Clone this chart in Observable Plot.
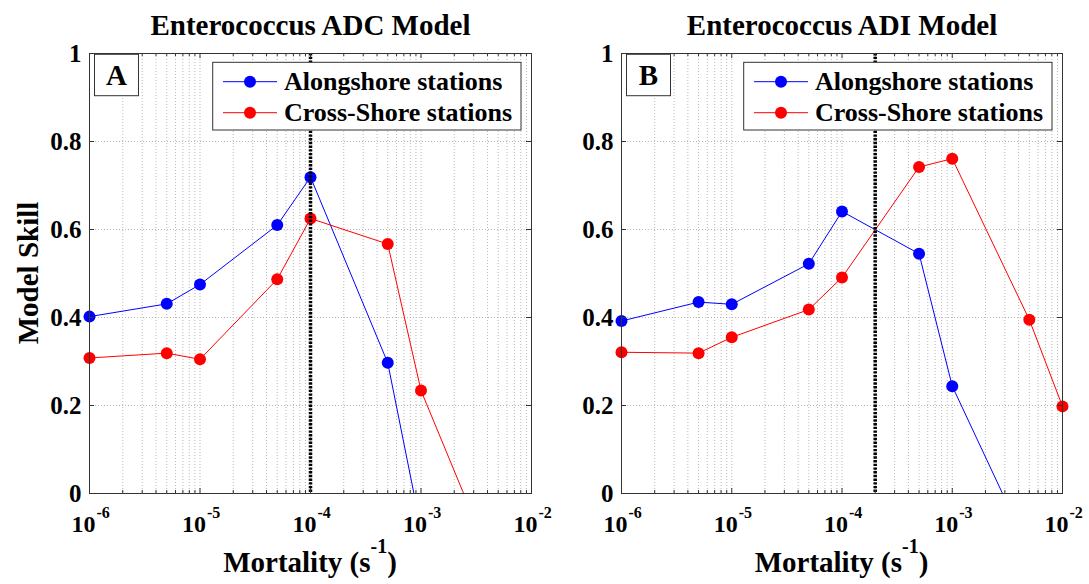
<!DOCTYPE html>
<html><head><meta charset="utf-8">
<script src="https://cdn.jsdelivr.net/npm/d3@7"></script>
<script src="https://cdn.jsdelivr.net/npm/@observablehq/plot@0.6"></script>
<style>
body{margin:0;background:#fff;}
#wrap{position:relative;width:1089px;height:584px;overflow:hidden;background:#fff;}
#wrap svg{position:absolute;top:0;}
</style></head><body><div id="wrap"></div>
<script>
// ---- data ----
const mortality = [1e-6, 5e-6, 1e-5, 5e-5, 1e-4, 5e-4, 1e-3, 5e-3, 1e-2];
const adcAlongshore = [0.402, 0.431, 0.475, 0.610, 0.719, 0.297, -0.08];
const adcCrossShore = [0.308, 0.319, 0.305, 0.487, 0.625, 0.567, 0.234, -0.19];
const adiAlongshore = [0.392, 0.435, 0.430, 0.522, 0.641, 0.545, 0.244, -0.13];
const adiCrossShore = [0.321, 0.319, 0.355, 0.418, 0.491, 0.742, 0.761, 0.395, 0.198];
const seriesNames = ["Alongshore stations", "Cross-Shore stations"];
const seriesColors = ["#0000ff", "#ff0000"];
const panelTitles = ["Enterococcus ADC Model", "Enterococcus ADI Model"];
const panelLetters = ["A", "B"];
const referenceMortality = [1e-4, 2e-4];
const xDomain = [1e-6, 1e-2];
const yDomain = [0, 1];
const yTicks = [0, 0.2, 0.4, 0.6, 0.8, 1];
const yTickLabels = ["0", "0.2", "0.4", "0.6", "0.8", "1"];
const xDecades = [-6, -5, -4, -3, -2];
const yLabel = "Model Skill";
const xLabelMain = "Mortality (s";
const xLabelExp = "-1";

const panelSeries = [[adcAlongshore, adcCrossShore], [adiAlongshore, adiCrossShore]];

const W = [545, 544], LEFT = [0, 545], ML = [89, 76], MR = [14, 27];
const H = 584, MT = 53, MB = 91;
const FONT = "Liberation Serif, 'Times New Roman', serif";
const wrap = document.getElementById("wrap");

const minorX = [];
for (let e = -6; e < -2; e++) for (let k = 2; k <= 9; k++) minorX.push(k * Math.pow(10, e));
const majorX = xDecades.map(d => Math.pow(10, d));
const gridStyle = {stroke: "#b0b0b0", strokeDasharray: "1,2", strokeWidth: 0.9};

for (let p = 0; p < 2; p++) {
  const rows = [];
  panelSeries[p].forEach((vals, s) => vals.forEach((v, i) => rows.push({m: mortality[i], skill: v, series: seriesNames[s]})));
  const plotW = W[p] - ML[p] - MR[p];
  const plotH = H - MT - MB;
  const tickStyle = {stroke: "#333", strokeWidth: 1};
  const plot = Plot.plot({
    width: W[p], height: H,
    marginLeft: ML[p], marginRight: MR[p], marginTop: MT, marginBottom: MB,
    style: {fontFamily: FONT, fontWeight: "bold", background: "none", overflow: "visible", color: "black"},
    x: {type: "log", domain: xDomain, axis: null},
    y: {domain: yDomain, axis: null},
    color: {domain: seriesNames, range: seriesColors},
    marks: [
      Plot.ruleX(minorX, {x: d => d, ...gridStyle}),
      Plot.ruleX(majorX.slice(1, -1), {x: d => d, ...gridStyle}),
      Plot.ruleY(yTicks.slice(1, -1), {y: d => d, ...gridStyle}),
      Plot.line(rows, {x: "m", y: "skill", z: "series", stroke: "series", strokeWidth: 1, clip: true}),
      Plot.dot(rows.filter(d => d.skill >= 0), {x: "m", y: "skill", fill: "series", r: 6}),
      Plot.ruleX([referenceMortality[p]], {x: d => d, stroke: "black", strokeWidth: 3.5, strokeDasharray: "2.4,1.3"}),
      Plot.frame({stroke: "#333", strokeWidth: 1}),
      Plot.tickX(majorX, {x: d => d, insetTop: plotH - 5, ...tickStyle}),
      Plot.tickX(majorX, {x: d => d, insetBottom: plotH - 5, ...tickStyle}),
      Plot.tickX(minorX, {x: d => d, insetTop: plotH - 3, ...tickStyle}),
      Plot.tickX(minorX, {x: d => d, insetBottom: plotH - 3, ...tickStyle}),
      Plot.tickY(yTicks, {y: d => d, insetRight: plotW - 5, ...tickStyle}),
      Plot.tickY(yTicks, {y: d => d, insetLeft: plotW - 5, ...tickStyle}),
      Plot.text(yTicks, {y: d => d, text: (d, i) => yTickLabels[i], frameAnchor: "left", textAnchor: "end", dx: -8, fontSize: 25, fontWeight: "bold", fill: "black", fontFamily: FONT}),
      Plot.text(xDecades, {x: d => Math.pow(10, d), text: () => "10", frameAnchor: "bottom", textAnchor: "end", lineAnchor: "bottom", dx: 6, dy: 38, fontSize: 24, fontWeight: "bold", fill: "black", fontFamily: FONT}),
      Plot.text(xDecades, {x: d => Math.pow(10, d), text: d => "-" + (-d), frameAnchor: "bottom", textAnchor: "start", lineAnchor: "bottom", dx: 7, dy: 24, fontSize: 16, fontWeight: "bold", fill: "black", fontFamily: FONT}),
      Plot.text([panelTitles[p]], {frameAnchor: "top", lineAnchor: "bottom", dy: -19, fontSize: 29, fontWeight: "bold", fill: "black", fontFamily: FONT})
    ]
  });
  plot.style.left = LEFT[p] + "px";
  wrap.appendChild(plot);

  const svg = d3.select(plot);
  const fL = ML[p], fR = W[p] - MR[p], fT = MT, fB = H - MB;
  const cx = (fL + fR) / 2;

  // letter box
  const lb = svg.append("g");
  lb.append("rect").attr("x", fL + 5.5).attr("y", fT + 1.3).attr("width", 44).attr("height", 41.4)
    .attr("fill", "white").attr("stroke", "#333").attr("stroke-width", 1);
  lb.append("text").attr("x", fL + 27.5).attr("y", fT + 32).attr("text-anchor", "middle")
    .attr("font-family", FONT).attr("font-weight", "bold").attr("font-size", 29).text(panelLetters[p]);

  // legend
  const lgW = 308.3, lgH = 67.7, lgX = fR - 10 - lgW, lgY = fT + 9.3;
  const lg = svg.append("g").attr("transform", `translate(${lgX},${lgY})`);
  lg.append("rect").attr("width", lgW).attr("height", lgH).attr("fill", "white").attr("stroke", "#333").attr("stroke-width", 1);
  seriesNames.forEach((name, i) => {
    const cy = 19.4 + i * 31;
    lg.append("line").attr("x1", 10.3).attr("x2", 64.3).attr("y1", cy).attr("y2", cy).attr("stroke", seriesColors[i]).attr("stroke-width", 1);
    lg.append("circle").attr("cx", 37.3).attr("cy", cy).attr("r", 6).attr("fill", seriesColors[i]);
    lg.append("text").attr("x", 71.3).attr("y", cy + 8.8).attr("text-anchor", "start")
      .attr("font-family", FONT).attr("font-weight", "bold").attr("font-size", 26).text(name);
  });

  // x label with superscript
  const xl = svg.append("text").attr("x", cx).attr("y", 572).attr("text-anchor", "middle")
    .attr("font-family", FONT).attr("font-weight", "bold").attr("font-size", 29);
  xl.append("tspan").text(xLabelMain);
  xl.append("tspan").attr("dy", -19).attr("font-size", 20).text(xLabelExp);
  xl.append("tspan").attr("dy", 19).text(")");

  if (p === 0) {
    svg.append("text").attr("transform", `translate(38,${(fT + fB) / 2}) rotate(-90)`).attr("text-anchor", "middle")
      .attr("font-family", FONT).attr("font-weight", "bold").attr("font-size", 29).text(yLabel);
  }
}
</script></body></html>
